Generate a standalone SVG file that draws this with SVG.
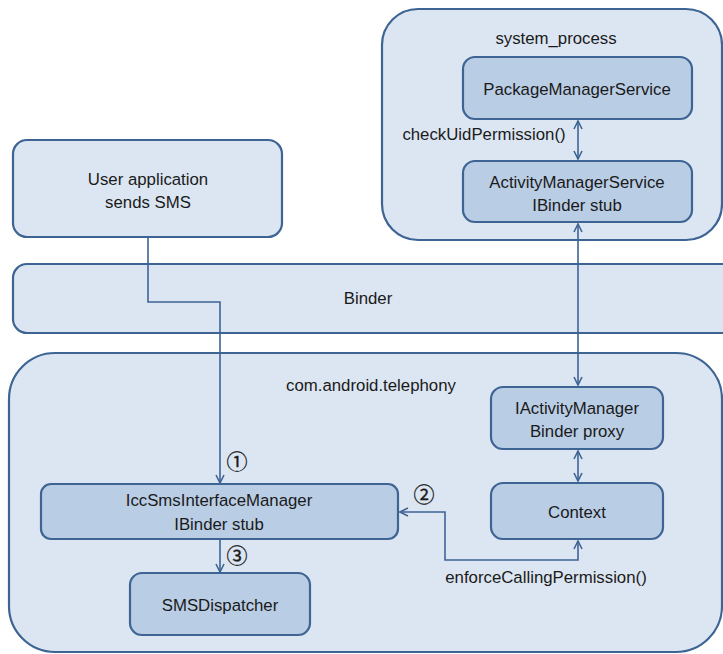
<svg xmlns="http://www.w3.org/2000/svg" width="723" height="654" viewBox="0 0 723 654">
<defs>
<style>
.cont{fill:#dce6f2;stroke:#3e6494;stroke-width:2.2}
.node{fill:#b9cde5;stroke:#3e6494;stroke-width:2.2}
text{font-family:"Liberation Sans",Arial,sans-serif;font-size:16.8px;fill:#1a1a1a}
.c{text-anchor:middle}
.num{font-family:"Noto Sans CJK SC","DejaVu Sans",sans-serif;font-size:21px;stroke:#1a1a1a;stroke-width:0.3}
.conn path{fill:none;stroke:#3e6494;stroke-width:1.6}
</style>
<marker id="ah" viewBox="0 0 10 10" refX="9" refY="5" markerWidth="10" markerHeight="10" markerUnits="userSpaceOnUse" orient="auto-start-reverse">
<path d="M1,1 L9,5 L1,9" fill="none" stroke="#3e6494" stroke-width="1.6"/>
</marker>
</defs>
<rect width="723" height="654" fill="#ffffff"/>

<g id="system_process">
<rect class="cont" x="382" y="9" width="340" height="231" rx="36"/>
<text x="556" y="44" class="c">system_process</text>
</g>
<g id="user_app">
<rect class="cont" x="13" y="140" width="269" height="97" rx="14"/>
<text x="148" y="185" class="c">User application</text>
<text x="148" y="208" class="c">sends SMS</text>
</g>
<g id="binder">
<rect class="cont" x="13" y="264" width="730" height="69" rx="14"/>
<text x="368" y="304" class="c">Binder</text>
</g>
<g id="telephony">
<rect class="cont" x="9" y="353" width="713" height="299" rx="46"/>
<text x="371" y="391" class="c">com.android.telephony</text>
</g>

<g id="pms">
<rect class="node" x="463" y="57" width="229" height="62" rx="12"/>
<text x="577" y="95" class="c">PackageManagerService</text>
</g>
<g id="ams">
<rect class="node" x="463" y="161" width="229" height="61" rx="12"/>
<text x="577" y="188" class="c">ActivityManagerService</text>
<text x="577" y="211" class="c">IBinder  stub</text>
</g>
<g id="iam">
<rect class="node" x="491" y="387" width="172" height="62" rx="12"/>
<text x="577" y="414" class="c">IActivityManager</text>
<text x="577" y="437" class="c">Binder proxy</text>
</g>
<g id="context">
<rect class="node" x="491" y="483" width="172" height="56" rx="12"/>
<text x="577" y="518" class="c">Context</text>
</g>
<g id="icc">
<rect class="node" x="41" y="484" width="357" height="55" rx="10"/>
<text x="219" y="506" class="c">IccSmsInterfaceManager</text>
<text x="219" y="530" class="c">IBinder stub</text>
</g>
<g id="smsd">
<rect class="node" x="130" y="573" width="180" height="62" rx="12"/>
<text x="220" y="611" class="c">SMSDispatcher</text>
</g>

<g id="connectors" class="conn">
<path d="M148,237 V302 H220 V483" marker-end="url(#ah)"/>
<path d="M578,121 V159" marker-start="url(#ah)" marker-end="url(#ah)"/>
<path d="M578,224 V385" marker-start="url(#ah)" marker-end="url(#ah)"/>
<path d="M578,451 V481" marker-start="url(#ah)" marker-end="url(#ah)"/>
<path d="M578,541 V560 H445 V512 H400" marker-start="url(#ah)" marker-end="url(#ah)"/>
<path d="M220,540 V572" marker-end="url(#ah)"/>
</g>
<g id="labels">
<text x="237" y="469" class="c num">①</text>
<text x="424" y="502" class="c num">②</text>
<text x="237" y="563" class="c num">③</text>
<text x="484" y="140" class="c">checkUidPermission()</text>
<text x="546" y="583" class="c">enforceCallingPermission()</text>
</g>
</svg>
